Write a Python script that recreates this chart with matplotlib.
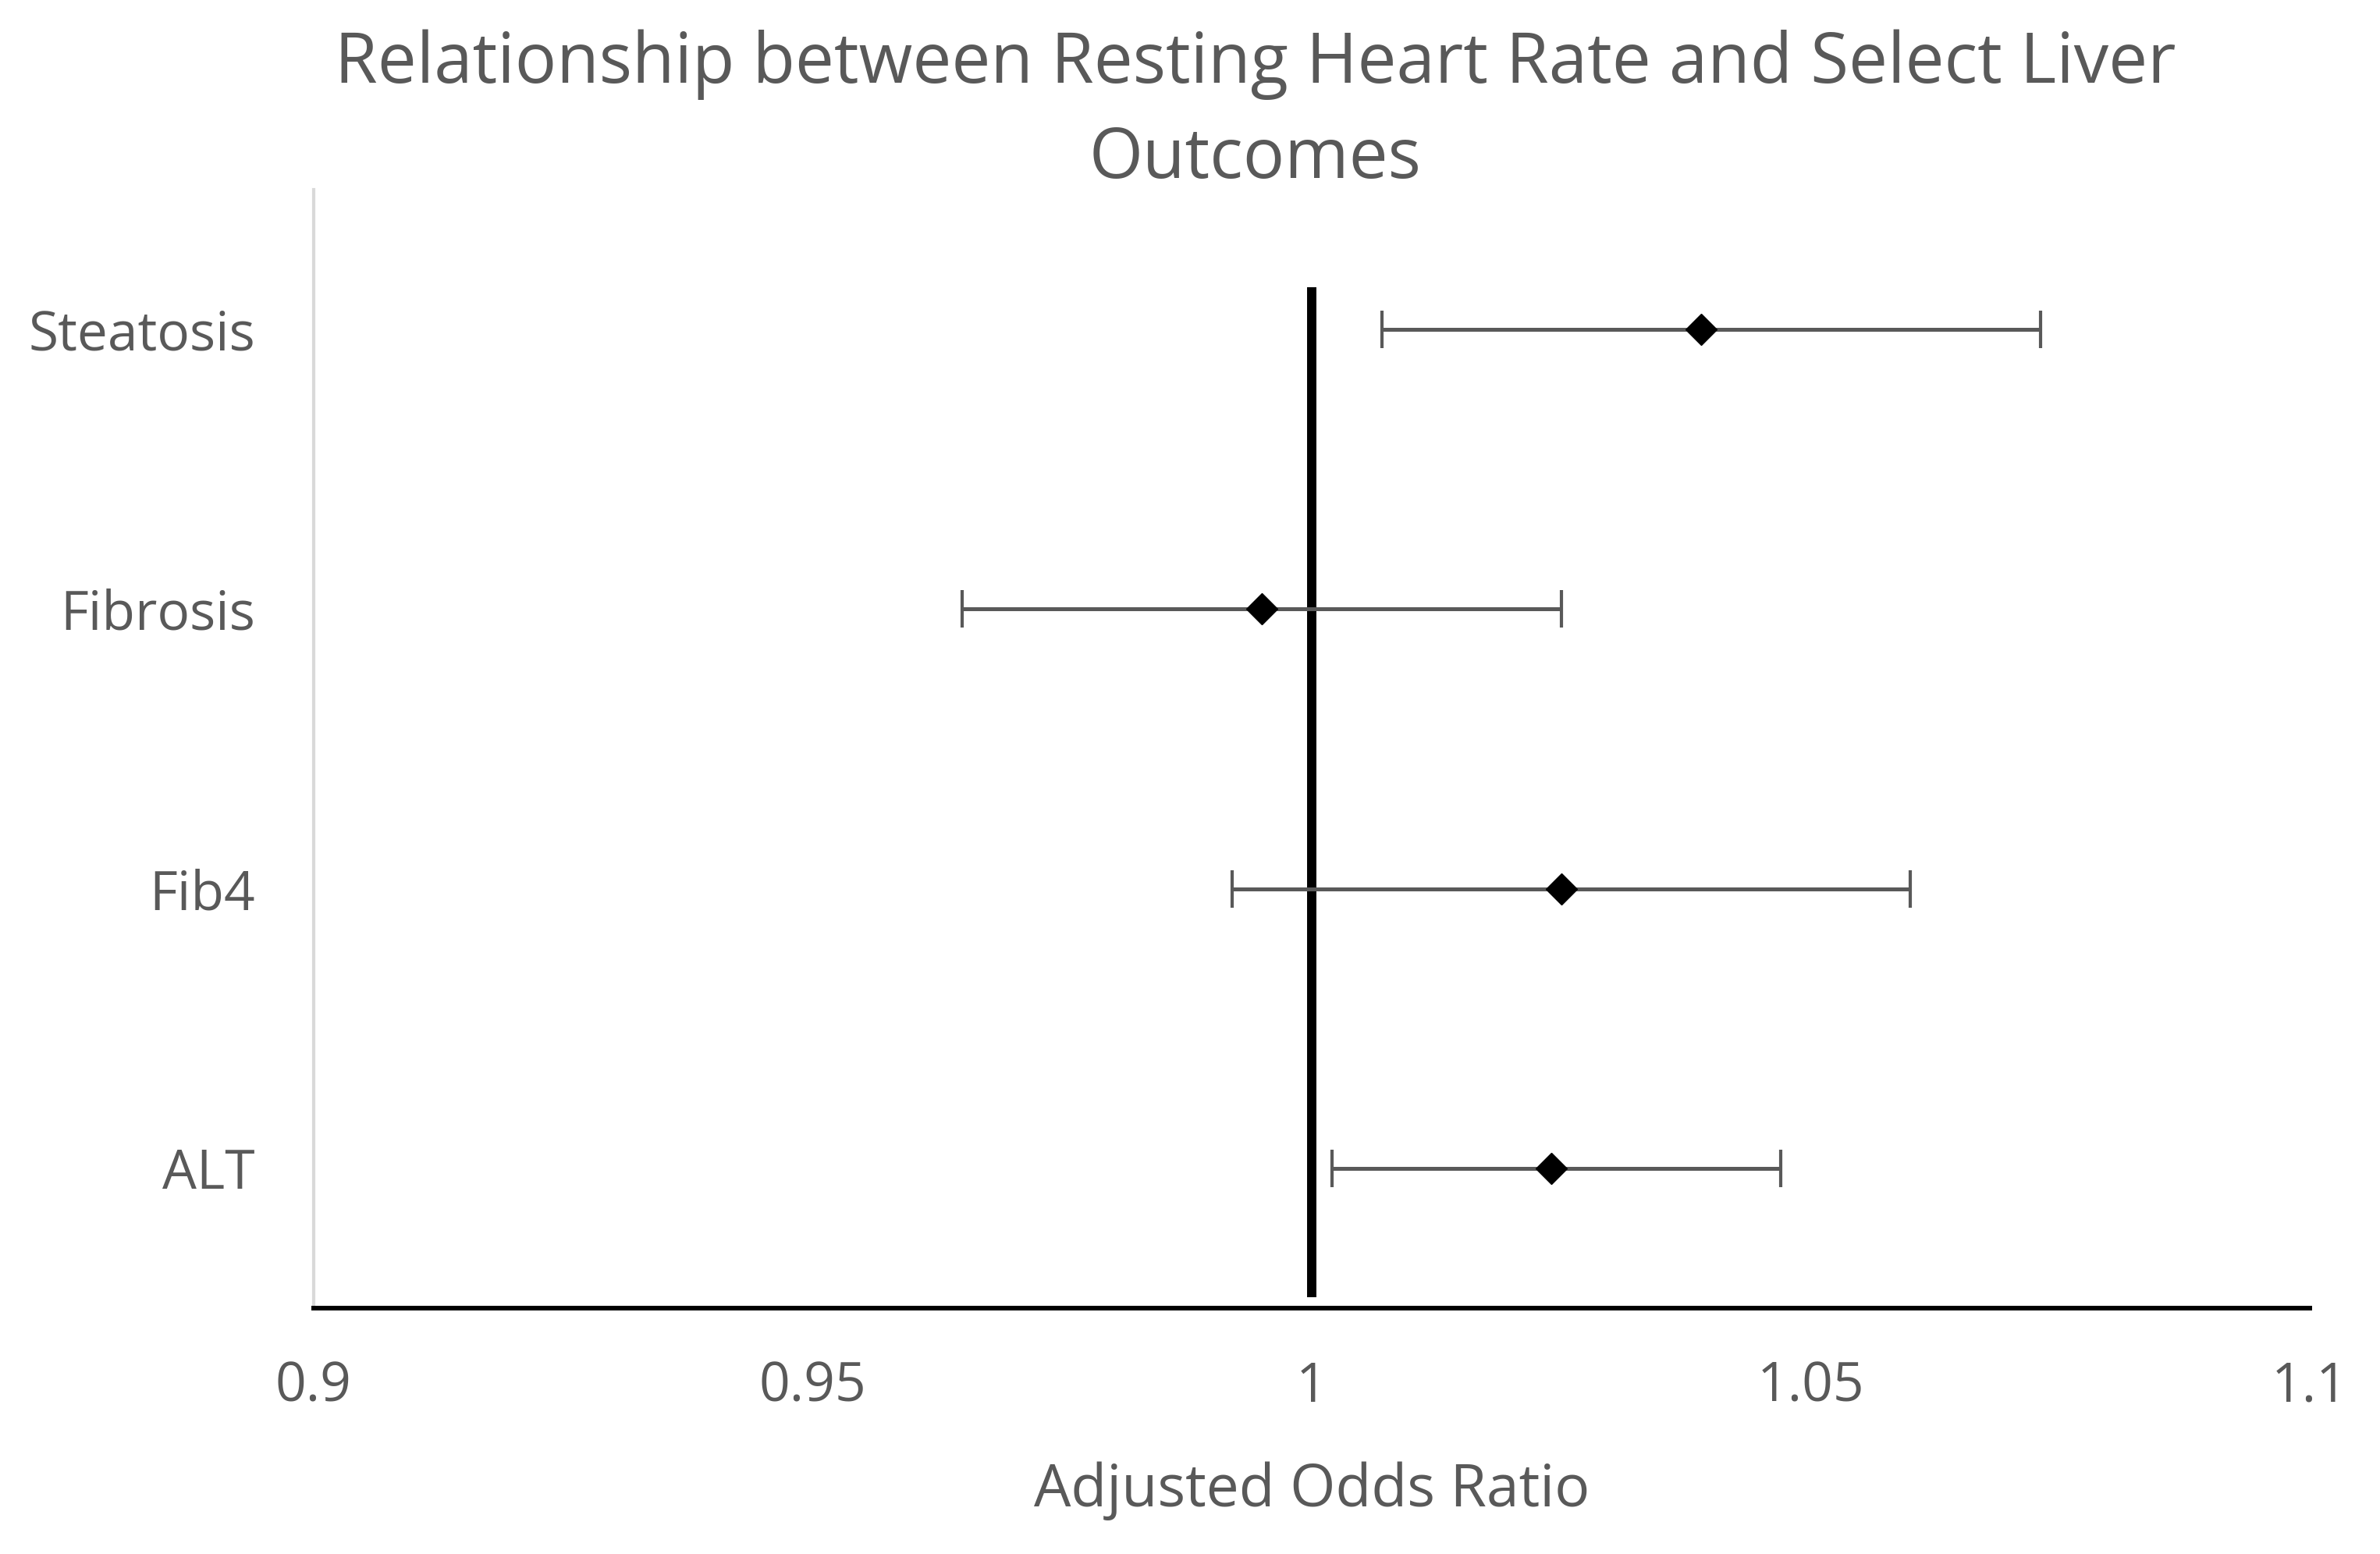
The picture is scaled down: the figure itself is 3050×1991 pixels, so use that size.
import matplotlib
matplotlib.use("Agg")
import matplotlib.pyplot as plt

# ── Data ──────────────────────────────────────────────────────────────────────
outcomes = ["Steatosis", "Fibrosis", "Fib4", "ALT"]
y_pos = [3.5, 2.5, 1.5, 0.5]
odds_ratio = [1.039, 0.995, 1.025, 1.024]
ci_low = [1.007, 0.965, 0.992, 1.002]
ci_high = [1.073, 1.025, 1.060, 1.047]

ref_x = 1.0
ref_y = [0.04, 3.65]

x_ticks = [0.9, 0.95, 1.0, 1.05, 1.1]
x_tick_labels = ["0.9", "0.95", "1", "1.05", "1.1"]

# ── Style ─────────────────────────────────────────────────────────────────────
TEXT = "#595959"
BAR = "#595959"
SPINE = "#D9D9D9"

plt.rcParams["font.family"] = ["Open Sans", "DejaVu Sans"]

fig = plt.figure(figsize=(30.5, 19.91), dpi=100)
ax = fig.add_axes([402 / 3050, 1 - 1676 / 1991, (2960 - 402) / 3050, (1676 - 243) / 1991])

err_lo = [o - l for o, l in zip(odds_ratio, ci_low)]
err_hi = [h - o for o, h in zip(odds_ratio, ci_high)]

# reference line at OR = 1
ax.plot([ref_x, ref_x], ref_y, color="black", linewidth=8.6, solid_capstyle="butt", zorder=2)
ax.errorbar(odds_ratio, y_pos, xerr=[err_lo, err_hi], fmt="none",
            ecolor=BAR, elinewidth=3.6, capsize=17, capthick=3, zorder=3)
ax.plot(odds_ratio, y_pos, linestyle="none", marker="D", markersize=20,
        markerfacecolor="black", markeredgecolor="black", markeredgewidth=1, zorder=4)

ax.set_xlim(0.9, 1.1)
ax.set_ylim(0, 4)
ax.set_xticks(x_ticks)
ax.set_xticklabels(x_tick_labels)
ax.set_yticks(y_pos)
ax.set_yticklabels(outcomes)
ax.tick_params(axis="both", length=0, labelsize=50, labelcolor=TEXT)
ax.tick_params(axis="x", pad=48)
ax.tick_params(axis="y", pad=54)

for side in ["top", "right"]:
    ax.spines[side].set_visible(False)
ax.spines["left"].set_color(SPINE)
ax.spines["left"].set_linewidth(3)
ax.spines["bottom"].set_color("black")
ax.spines["bottom"].set_linewidth(4.3)

ax.set_xlabel("Adjusted Odds Ratio", fontsize=54, color=TEXT)
ax.xaxis.set_label_coords(0.5, -0.137)

fig.suptitle("Relationship between Resting Heart Rate and Select Liver\nOutcomes",
             x=0.5275, y=0.981, fontsize=64, color=TEXT, linespacing=1.45)

plt.savefig("out.png", dpi=100)
